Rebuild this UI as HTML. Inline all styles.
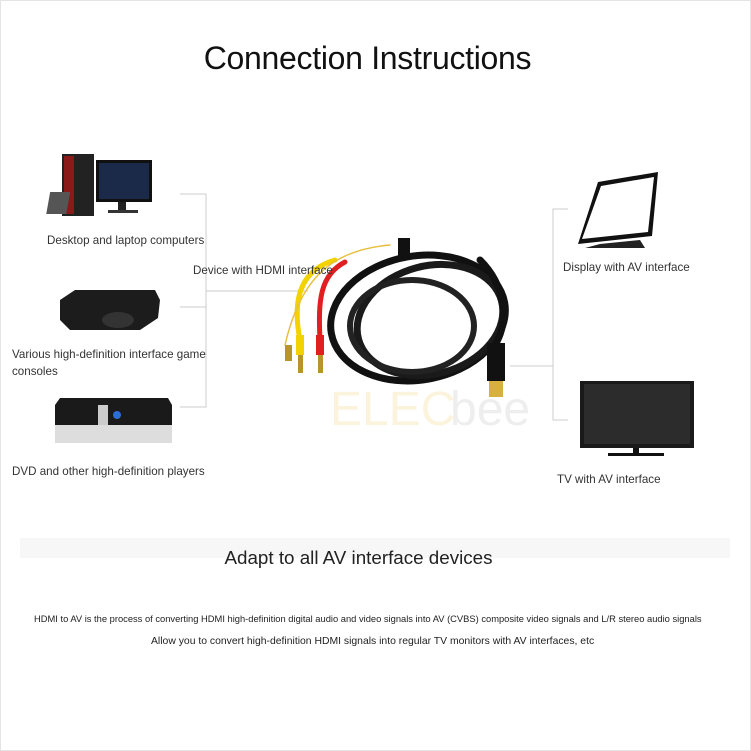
<!DOCTYPE html>
<html><head><meta charset="utf-8"><style>
html,body{margin:0;padding:0;background:#fff;width:751px;height:751px;overflow:hidden}
body{position:relative;font-family:"Liberation Sans",sans-serif;color:#333}
.t{position:absolute;white-space:nowrap;font-size:11.6px;color:#333}
</style></head><body>
<div style="position:absolute;left:0;top:0;width:749px;height:749px;border:1px solid #e4e4e4"></div>
<div style="position:absolute;left:0;top:40px;width:735px;text-align:center;font-size:32px;color:#111;letter-spacing:-0.3px">Connection Instructions</div>
<svg width="751" height="751" style="position:absolute;left:0;top:0">
<g stroke="#ccc" stroke-width="1" fill="none">
<path d="M180 194H206V407H180M180 307H206M206 291H308"/>
<path d="M568 209H553V420H568M510 366H553"/>
</g>
<text x="330" y="425" font-size="48" fill="#fbf3dc" font-family="Liberation Sans">ELEC</text>
<text x="450" y="425" font-size="48" fill="#eee" font-family="Liberation Sans">bee</text>
<rect x="62" y="154" width="32" height="62" fill="#222"/><rect x="64" y="156" width="10" height="58" fill="#8a1a1a"/>
<rect x="96" y="160" width="56" height="42" fill="#111"/><rect x="99" y="163" width="50" height="36" fill="#1b2a48"/>
<rect x="118" y="202" width="8" height="8" fill="#222"/><rect x="108" y="210" width="30" height="3" fill="#333"/>
<rect x="84" y="192" width="20" height="22" fill="#555" transform="skewX(-10)"/>
<path d="M60 300L75 290H155L160 300L158 318L140 330H70L60 320Z" fill="#1c1c1c"/>
<ellipse cx="118" cy="320" rx="16" ry="8" fill="#333"/>
<path d="M55 405L60 398H168L172 405V425H55Z" fill="#1a1a1a"/>
<rect x="55" y="425" width="117" height="18" fill="#ddd"/>
<rect x="98" y="405" width="10" height="20" fill="#ccc"/><circle cx="117" cy="415" r="4" fill="#2a6fd6"/>
<path d="M598 182L658 172L652 236L578 244Z" fill="#111"/>
<path d="M601 186L654 177L648 232L582 239Z" fill="#fff"/>
<path d="M600 244L640 240L645 248H585Z" fill="#222"/>
<rect x="580" y="381" width="114" height="67" fill="#1a1a1a"/>
<rect x="584" y="384" width="106" height="60" fill="#2c2c2c"/>
<rect x="633" y="448" width="6" height="6" fill="#111"/><rect x="608" y="453" width="56" height="3" fill="#111"/>
<g fill="none" stroke-linecap="round">
<path d="M335 260C300 270 292 300 300 340" stroke="#f2d200" stroke-width="5"/>
<path d="M345 262C320 275 318 300 320 340" stroke="#e02020" stroke-width="5"/>
<path d="M390 245C330 250 300 280 285 345" stroke="#e8c040" stroke-width="1.5"/>
<ellipse cx="418" cy="318" rx="88" ry="62" stroke="#111" stroke-width="7" transform="rotate(-10 418 318)"/>
<ellipse cx="430" cy="320" rx="74" ry="54" stroke="#1a1a1a" stroke-width="7" transform="rotate(-15 430 320)"/>
<ellipse cx="412" cy="326" rx="62" ry="46" stroke="#222" stroke-width="6"/>
<path d="M480 260C505 285 510 320 495 345" stroke="#111" stroke-width="7"/>
</g>
<rect x="398" y="238" width="12" height="20" fill="#111"/>
<rect x="296" y="335" width="8" height="20" fill="#f2d200"/><rect x="316" y="335" width="8" height="20" fill="#e02020"/>
<rect x="285" y="345" width="7" height="16" fill="#b8952a"/><rect x="298" y="355" width="5" height="18" fill="#b8952a"/><rect x="318" y="355" width="5" height="18" fill="#b8952a"/>
<rect x="487" y="343" width="18" height="38" fill="#111"/><rect x="489" y="381" width="14" height="16" fill="#d8b040"/>
<rect x="20" y="538" width="710" height="20" fill="#f7f7f7"/>
</svg>
<div class="t" style="left:47px;top:234px">Desktop and laptop computers</div>
<div class="t" style="left:193px;top:264px">Device with HDMI interface</div>
<div class="t" style="left:12px;top:346px;line-height:17px">Various high-definition interface game<br>consoles</div>
<div class="t" style="left:12px;top:465px">DVD and other high-definition players</div>
<div class="t" style="left:563px;top:261px">Display with AV interface</div>
<div class="t" style="left:557px;top:473px">TV with AV interface</div>
<div style="position:absolute;left:0;top:547px;width:717px;text-align:center;font-size:18.8px;color:#222">Adapt to all AV interface devices</div>
<div class="t" style="left:34px;top:614px;font-size:9.35px;color:#222">HDMI to AV is the process of converting HDMI high-definition digital audio and video signals into AV (CVBS) composite video signals and L/R stereo audio signals</div>
<div class="t" style="left:151px;top:636px;font-size:10.4px;color:#222">Allow you to convert high-definition HDMI signals into regular TV monitors with AV interfaces, etc</div>
</body></html>
